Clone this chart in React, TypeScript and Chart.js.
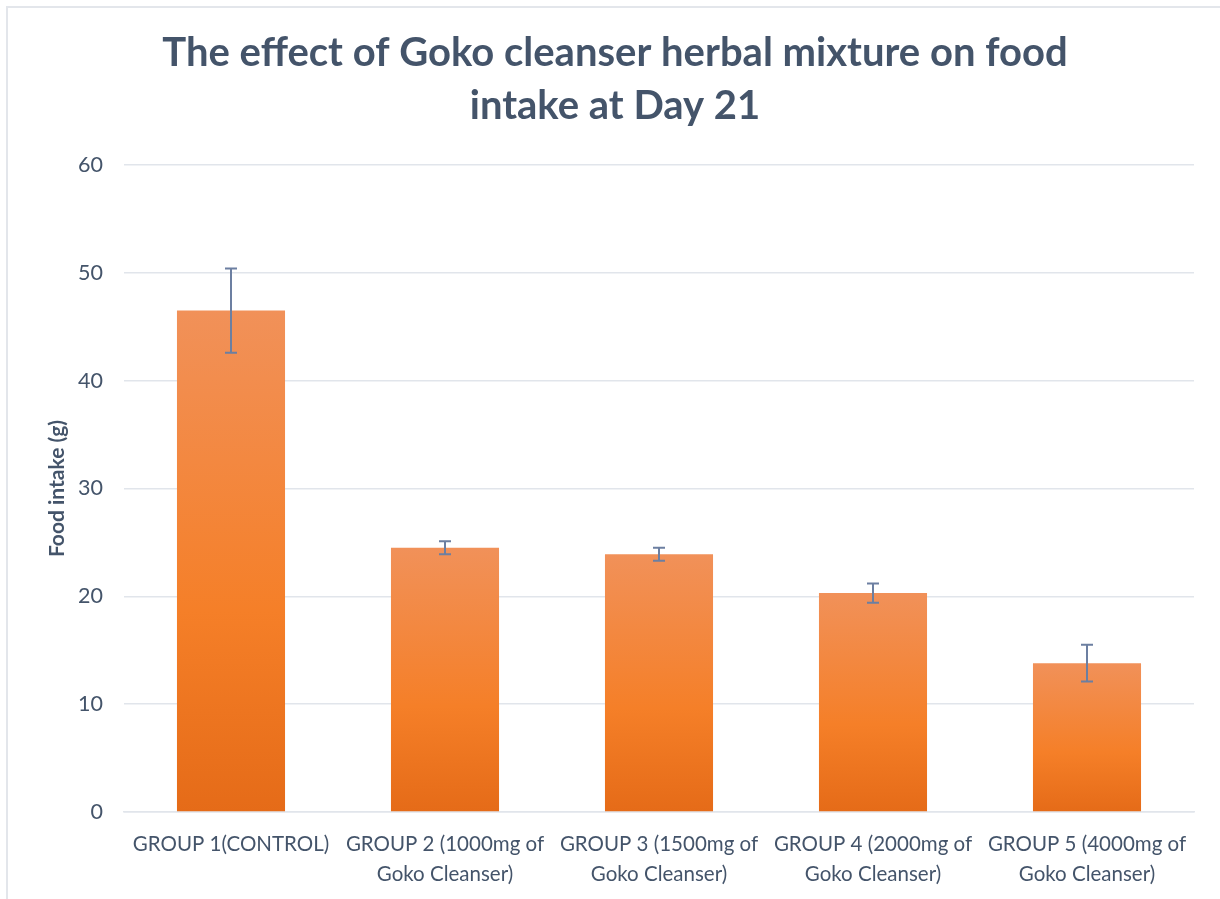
import React, { useEffect, useRef } from "react";
import { Chart, registerables } from "chart.js";

Chart.register(...registerables);

const categories: (string | string[])[] = [
  "GROUP 1(CONTROL)",
  ["GROUP 2 (1000mg of", "Goko Cleanser)"],
  ["GROUP 3 (1500mg of", "Goko Cleanser)"],
  ["GROUP 4 (2000mg of", "Goko Cleanser)"],
  ["GROUP 5 (4000mg of", "Goko Cleanser)"],
];
const foodIntake: number[] = [46.5, 24.5, 23.9, 20.3, 13.8];
const errors: number[] = [3.9, 0.6, 0.6, 0.9, 1.7];
const titleLines: string[] = [
  "The effect of Goko cleanser herbal mixture on food",
  "intake at Day 21",
];
const yAxisTitle = "Food intake (g)";
const yMin = 0;
const yMax = 60;
const yStep = 10;

const SLATE = "#44546A";
const GRID = "#E1E5EB";

const borderPlugin = {
  id: "frameBorder",
  beforeDraw(chart: any) {
    const c = chart.ctx;
    c.save();
    c.strokeStyle = "#E3E6EB";
    c.lineWidth = 2;
    c.beginPath();
    c.moveTo(7, chart.height);
    c.lineTo(7, 7);
    c.lineTo(chart.width, 7);
    c.stroke();
    c.restore();
  },
};

const errorBarPlugin = {
  id: "errorBars",
  afterDatasetsDraw(chart: any) {
    const meta = chart.getDatasetMeta(0);
    const y = chart.scales.y;
    const c = chart.ctx;
    c.save();
    c.strokeStyle = "#6C7FA1";
    c.lineWidth = 2;
    meta.data.forEach((el: any, i: number) => {
      const v = foodIntake[i];
      const e = errors[i];
      const x = el.x;
      const yt = y.getPixelForValue(v + e);
      const yb = y.getPixelForValue(v - e);
      c.beginPath();
      c.moveTo(x, yt);
      c.lineTo(x, yb);
      c.moveTo(x - 6, yt);
      c.lineTo(x + 6, yt);
      c.moveTo(x - 6, yb);
      c.lineTo(x + 6, yb);
      c.stroke();
    });
    c.restore();
  },
};

export default function App() {
  const ref = useRef<HTMLCanvasElement | null>(null);
  useEffect(() => {
    if (!ref.current) return;
    const chart = new Chart(ref.current, {
      type: "bar",
      data: {
        labels: categories,
        datasets: [
          {
            data: foodIntake,
            backgroundColor: (ctx: any) => {
              const ch = ctx.chart;
              if (!ch.chartArea || ctx.type !== "data") return "#F47E2C";
              const ys = ch.scales.y;
              const top = ys.getPixelForValue(ctx.raw as number);
              const bottom = ys.getPixelForValue(0);
              if (!isFinite(top) || !isFinite(bottom) || top === bottom) return "#F47E2C";
              const g = ch.ctx.createLinearGradient(0, top, 0, bottom);
              g.addColorStop(0, "#F19159");
              g.addColorStop(0.6, "#F57F28");
              g.addColorStop(1, "#E56B18");
              return g;
            },
            borderWidth: 0,
            categoryPercentage: 1,
            barPercentage: 0.505,
            yAxisID: "y",
          },
        ],
      },
      options: {
        animation: false,
        responsive: false,
        devicePixelRatio: 1,
        layout: { padding: { left: 10, right: 0, top: 0, bottom: 0 } },
        plugins: {
          legend: { display: false },
          tooltip: { enabled: false },
          title: {
            display: true,
            text: titleLines,
            color: SLATE,
            font: { family: "Lato", size: 40, weight: "bold", lineHeight: 1.325 },
            padding: { top: 27, bottom: 32 },
          },
        },
        scales: {
          x: {
            grid: { display: false, drawTicks: false },
            border: { display: true, color: GRID, width: 1.5 },
            ticks: {
              color: SLATE,
              font: { family: "Lato", size: 20.5, lineHeight: 1.45 },
              padding: 18,
              maxRotation: 0,
              autoSkip: false,
            },
            afterFit: (s: any) => {
              s.height = 87;
            },
          },
          y: {
            min: yMin,
            max: yMax,
            grid: { color: GRID, lineWidth: 1.5, drawTicks: false },
            border: { display: false },
            ticks: {
              stepSize: yStep,
              color: SLATE,
              font: { family: "Lato", size: 21.5 },
              padding: 21,
            },
            title: {
              display: true,
              text: yAxisTitle,
              color: SLATE,
              font: { family: "Lato", size: 21, weight: "bold" },
              padding: { top: 35, bottom: 0 },
            },
            afterFit: (s: any) => {
              s.width = 114;
            },
          },
          yRight: {
            position: "right",
            display: true,
            min: yMin,
            max: yMax,
            grid: { display: false, drawTicks: false },
            border: { display: false },
            ticks: { display: false },
            afterFit: (s: any) => {
              s.width = 26;
            },
          },
        },
      },
      plugins: [borderPlugin, errorBarPlugin],
    });
    return () => chart.destroy();
  }, []);
  return (
    <div style={{ position: "absolute", left: 0, top: 0, width: 1220, height: 899, background: "#fff" }}>
      <canvas ref={ref} width={1220} height={899} style={{ width: 1220, height: 899, display: "block" }} />
    </div>
  );
}
